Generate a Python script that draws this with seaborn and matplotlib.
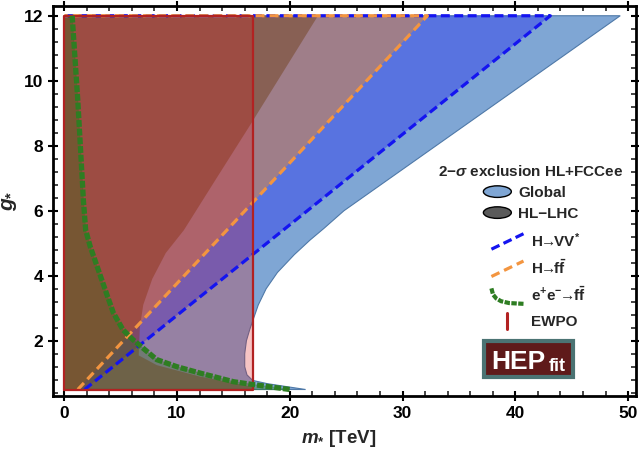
import numpy as np
import matplotlib
matplotlib.use("Agg")
import matplotlib.pyplot as plt
import seaborn as sns
from matplotlib.legend_handler import HandlerBase
from matplotlib.patches import Ellipse, Rectangle, Patch
from matplotlib.lines import Line2D
from matplotlib.ticker import MultipleLocator

# ── Data ──────────────────────────────────────────────────────
g_min, g_max = 0.5, 12.0
m_left = 0.0
m_ewpo = 16.7            # EWPO bound on m* [TeV]

# Global fit: right edge of excluded region, top -> bottom
m_global = [49.3, 24.8, 23.0, 21.8, 20.4, 18.9, 17.9, 17.2, 16.8, 16.45, 16.15, 16.0, 16.0,
            16.2, 16.7, 18.0, 19.5, 21.4]
g_global = [12.0, 6.0, 5.45, 5.1, 4.65, 4.1, 3.6, 3.1, 2.7, 2.35, 2.0, 1.6, 1.2,
            0.95, 0.78, 0.68, 0.6, 0.5]

# HL-LHC: edge of excluded region, top -> bottom
m_hl = [22.5, 16.6, 13.5, 10.6, 9.0, 7.8, 7.0, 6.7, 6.6, 8.2, 12.0, 16.5, 17.0]
g_hl = [12.0, 8.7, 7.0, 5.4, 4.7, 3.9, 3.1, 2.4, 1.55, 1.25, 0.9, 0.6, 0.5]

# H -> VV* and H -> ff straight bounds
m_vv = [1.8, 43.1]
g_vv = [0.5, 12.0]
m_ff = [1.2, 32.2]
g_ff = [0.5, 12.0]

# e+e- -> ff bound
m_ee = [0.7, 1.2, 1.7, 1.9, 2.3, 3.0, 3.8, 4.35, 5.2, 6.1, 8.2, 10.0, 12.1, 15.0, 16.8, 20.0]
g_ee = [12.0, 9.4, 6.3, 5.4, 4.9, 4.2, 3.4, 2.86, 2.34, 2.03, 1.42, 1.2, 1.0, 0.74, 0.65, 0.5]

# ── Style ─────────────────────────────────────────────────────
sns.set_theme(style="ticks")
plt.rcParams['font.family'] = ['Liberation Sans', 'DejaVu Sans']
plt.rcParams.update({
    'font.weight': 'bold',
    'mathtext.fontset': 'custom',
    'mathtext.rm': 'Liberation Sans:bold',
    'mathtext.bf': 'Liberation Sans:bold',
    'mathtext.it': 'Liberation Sans:bold:italic',
    'mathtext.sf': 'Liberation Sans:bold',
})

C = {
    "global": "#7FA6D4", "global_edge": "#4F79A8",
    "vv": "#0000FF", "vv_line": "#1414F0",
    "ff": "#F08C28", "ff_line": "#F39540",
    "hl": "#6E3C14", "hl_leg": "#5A5A5A",
    "ewpo": "#DC1414", "ewpo_line": "#B22222",
    "ee": "#286E14", "ee_line": "#2E7D22",
}
VV_DASH = (0, (2.8, 1.4))
FF_DASH = (0, (2.8, 1.6))
EE_DASH = (0, (1.3, 0.35))

fig = plt.figure(figsize=(6.39, 4.51), dpi=100)
ax = fig.add_axes([53 / 639, 1 - 396 / 451, 583 / 639, 390 / 451])

# ── Regions ───────────────────────────────────────────────────
ax.fill([m_left, m_left] + m_global, [g_min, g_max] + g_global,
        color=C["global"], ec=C["global_edge"], lw=0.8, zorder=1)
ax.fill([m_vv[0], m_vv[1], m_left, m_left], [g_vv[0], g_vv[1], g_max, g_min],
        color=C["vv"], alpha=0.3, lw=0, zorder=2)
ax.fill([m_ff[0], m_ff[1], m_left, m_left], [g_ff[0], g_ff[1], g_max, g_min],
        color=C["ff"], alpha=0.47, lw=0, zorder=3)
ax.fill([m_left, m_left] + m_hl, [g_min, g_max] + g_hl,
        color=C["hl"], alpha=0.45, lw=0, zorder=4)
ax.fill([m_left, m_ewpo, m_ewpo, m_left], [g_min, g_min, g_max, g_max],
        color=C["ewpo"], alpha=0.25, lw=0, zorder=5)
ax.fill([m_left, m_left] + m_ee, [g_min, g_max] + g_ee,
        color=C["ee"], alpha=0.32, ec=C["ee_line"], lw=1.0, zorder=6)

# ── Boundaries ────────────────────────────────────────────────
sns.lineplot(x=m_vv + [m_left], y=g_vv + [g_max], ax=ax, sort=False, estimator=None,
             color=C["vv_line"], lw=2.3, linestyle=VV_DASH, zorder=7)
sns.lineplot(x=m_ff + [m_left], y=g_ff + [g_max], ax=ax, sort=False, estimator=None,
             color=C["ff_line"], lw=2.3, linestyle=FF_DASH, zorder=8)
ax.plot([m_left, m_ewpo, m_ewpo, m_left, m_left], [g_min, g_min, g_max, g_max, g_min],
        color=C["ewpo_line"], lw=1.6, zorder=9)
sns.lineplot(x=m_ee, y=g_ee, ax=ax, sort=False, estimator=None,
             color=C["ee_line"], lw=3.8, linestyle=EE_DASH, zorder=10)

# ── Axes ──────────────────────────────────────────────────────
ax.set_xlim(-1.0, 50.7)
ax.set_ylim(0.3, 12.3)
ax.xaxis.set_major_locator(MultipleLocator(10))
ax.xaxis.set_minor_locator(MultipleLocator(2))
ax.yaxis.set_major_locator(MultipleLocator(2))
ax.yaxis.set_minor_locator(MultipleLocator(0.4))
ax.tick_params(which='major', direction='inout', length=7, width=1.5,
               top=True, right=True, labelsize=12.5, colors='black')
ax.tick_params(which='minor', direction='in', length=3.5, width=1.2,
               top=True, right=True)
for s in ax.spines.values():
    s.set_linewidth(2.0)
    s.set_color('black')
for lab in ax.get_xticklabels() + ax.get_yticklabels():
    lab.set_fontweight('bold')
ax.set_xlabel(r'$m_{*}$ [TeV]', fontsize=13.5, fontweight='bold')
ax.set_ylabel(r'$g_{*}$', fontsize=15, fontweight='bold')
ax.xaxis.set_label_coords(0.49, -0.082)
ax.yaxis.set_label_coords(-0.058, 0.5)


# ── Legend ────────────────────────────────────────────────────
class HandlerEllipse(HandlerBase):
    def create_artists(self, legend, orig, xd, yd, w, h, fs, trans):
        e = Ellipse((w / 2 - xd, h / 2 - yd), w, h, facecolor=orig.get_facecolor(),
                    edgecolor='black', lw=1.0, transform=trans)
        return [e]


class HandlerPath(HandlerBase):
    def __init__(self, fx, fy):
        super().__init__()
        self.fx, self.fy = np.asarray(fx), np.asarray(fy)

    def create_artists(self, legend, orig, xd, yd, w, h, fs, trans):
        ln = Line2D(self.fx * w - xd, self.fy * h - yd)
        ln.update_from(orig)
        ln.set_transform(trans)
        return [ln]


font = dict(weight='bold', size=11)
h_glob = Patch(facecolor=C["global"], label='Global')
h_hl = Patch(facecolor=C["hl_leg"], label='HL−LHC')
leg1 = ax.legend(handles=[h_glob, h_hl], title=r'2−$\sigma$ exclusion HL+FCCee',
                 title_fontproperties=font, prop=font, frameon=False,
                 loc='upper center', bbox_to_anchor=(0.820, 0.595),
                 borderpad=0, borderaxespad=0, handlelength=1.83, handleheight=0.79,
                 handletextpad=0.46, labelspacing=0.45,
                 handler_map={Patch: HandlerEllipse()})
leg1.set_zorder(20)
ax.add_artist(leg1)

arrow = r'$\!\!\rightarrow\!\!$'
h_vv = Line2D([], [], color=C["vv_line"], lw=2.3, linestyle=VV_DASH,
              label='H' + arrow + r'VV$^{*}$')
h_ff = Line2D([], [], color=C["ff_line"], lw=2.3, linestyle=FF_DASH,
              label='H' + arrow + r'f$\bar{\mathrm{f}}$')
h_ee = Line2D([], [], color=C["ee_line"], lw=3.0, linestyle=EE_DASH,
              label=r'e$^{+}$e$^{-}$' + arrow + r'f$\bar{\mathrm{f}}$')
h_ew = Line2D([], [], color=C["ewpo_line"], lw=2.2, label='EWPO')
diag = HandlerPath([0, 1], [0, 1])
leg2 = ax.legend(handles=[h_vv, h_ff, h_ee, h_ew], prop=font, frameon=False,
                 loc='upper left', bbox_to_anchor=(0.752, 0.423),
                 borderpad=0, borderaxespad=0, handlelength=2.1, handleheight=1.18,
                 handletextpad=0.52, labelspacing=0.59,
                 handler_map={h_vv: diag, h_ff: diag,
                              h_ee: HandlerPath([0, 0.05, 0.15, 0.3, 0.55, 1.0],
                                                [1.0, 0.6, 0.35, 0.17, 0.05, 0.0]),
                              h_ew: HandlerPath([0.5, 0.5], [0, 1])})
leg2.set_zorder(20)

# HEPfit logo
ax.add_patch(Rectangle((0.740, 0.050), 0.152, 0.090, transform=ax.transAxes,
                       facecolor='#5F1A1A', edgecolor='#4B7373', lw=3, zorder=21))
ax.text(0.752, 0.070, 'HEP', transform=ax.transAxes, color='white', fontsize=19,
        fontweight='bold', zorder=22)
ax.text(0.850, 0.063, 'fit', transform=ax.transAxes, color='white', fontsize=13,
        fontweight='bold', zorder=22)

plt.savefig("out.png", dpi=100)
plt.close()
